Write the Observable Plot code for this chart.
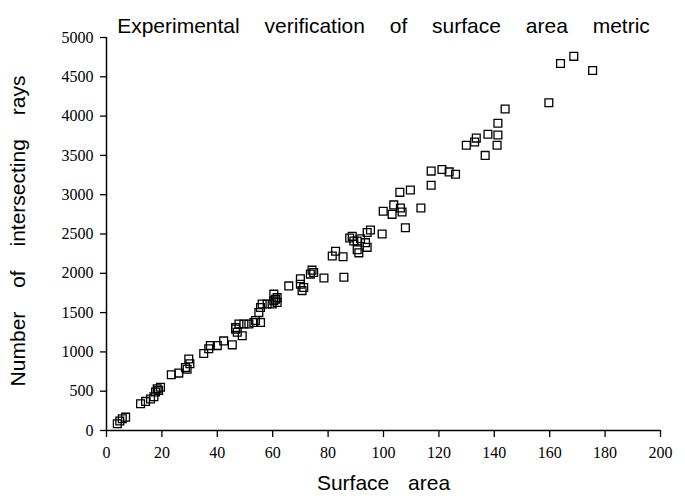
<!DOCTYPE html>
<html><head><meta charset="utf-8">
<script src="https://cdn.jsdelivr.net/npm/d3@7"></script>
<script src="https://cdn.jsdelivr.net/npm/@observablehq/plot@0.6"></script>
<style>body{margin:0;background:#fff}</style>
</head><body><div id="chart"></div>
<script>
const surfaceArea = [3.9,5.7,6.9,4.8,
 12.3,14.1,15.9,17.1,17.7,18.3,19.5,18.8,
 23.4,26.1,28.5,29.1,30.1,29.7,
 35.1,36.9,37.5,40,42.3,45.4,46.6,47.8,47.2,49,49.6,51.4,53.2,55,55.6,56.2,58,59.8,60.4,61,61.6,60.4,61.6,55.6,53.8,46.6,
 65.8,70,70,70.6,71.2,74.2,73.6,74.8,78.5,85.7,82.7,85.4,81.5,
 87.8,88.7,89.3,90.5,91.7,93.5,94.1,90.5,91.1,94.1,95.3,99.5,
 99.9,103.1,103.7,106.1,106.7,105.9,109.7,107.9,113.5,
 117.2,117.2,121.1,123.7,126,
 129.9,132.9,133.5,136.7,137.7,141,141.3,141.3,143.9,
 159.7,163.9,168.7,175.5];
const rayCount = [85,150,170,120,
 340,370,400,430,490,530,550,510,
 710,730,800,780,850,910,
 980,1040,1080,1080,1140,1090,1310,1355,1250,1205,1355,1355,1375,1500,1375,1610,1610,1610,1735,1670,1630,1650,1690,1565,1400,1290,
 1840,1930,1860,1780,1820,2040,1990,2010,1940,1950,2280,2210,2220,
 2450,2470,2410,2410,2440,2390,2330,2300,2260,2520,2550,2500,
 2790,2750,2870,2830,2780,3030,3060,2580,2830,
 3300,3120,3320,3290,3260,
 3630,3670,3720,3500,3770,3630,3760,3910,4090,
 4170,4670,4760,4580];
const xTicks = [0,20,40,60,80,100,120,140,160,180,200];
const yTicks = [0,500,1000,1500,2000,2500,3000,3500,4000,4500,5000];
const titleText = "Experimental verification of surface area metric";
const xLabel = "Surface area";
const yLabel = "Number of intersecting rays";

const data = surfaceArea.map((x, i) => ({x, y: rayCount[i]}));
const sans = "'Liberation Sans', Arial, sans-serif";

const chart = Plot.plot({
  width: 685, height: 501,
  marginTop: 37, marginBottom: 71, marginLeft: 106, marginRight: 25,
  x: {domain: [0, 200]},
  y: {domain: [0, 5000]},
  style: {background: "#fff", color: "#000", fontFamily: "'Liberation Serif', serif", fontSize: "16px"},
  marks: [
    Plot.axisX({ticks: xTicks, tickSize: 7, tickPadding: 9, tickFormat: d => String(d), label: null, strokeWidth: 1.3}),
    Plot.axisY({ticks: yTicks, tickSize: 6, tickPadding: 7, tickFormat: d => String(d), label: null, strokeWidth: 1.3}),
    Plot.ruleX([0], {stroke: "#000", strokeWidth: 1.5}),
    Plot.ruleY([0], {stroke: "#000", strokeWidth: 1.5}),
    Plot.dot(data, {x: "x", y: "y", symbol: "square", r: 4.4, stroke: "#000", strokeWidth: 1.3, fill: "none"}),
    Plot.text([titleText], {text: d => d, frameAnchor: "top", dy: -19, fontSize: 21, fontFamily: sans}),
    Plot.text([xLabel], {text: d => d, frameAnchor: "bottom", dy: 59, fontSize: 21, fontFamily: sans}),
    Plot.text([yLabel], {text: d => d, frameAnchor: "left", textAnchor: "middle", dx: -88, dy: -3, rotate: -90, fontSize: 21, fontFamily: sans})
  ]
});
document.getElementById("chart").appendChild(chart);
d3.select(chart).selectAll("text").each(function() {
  const t = this.textContent;
  if (t === titleText) d3.select(this).style("word-spacing", "19px");
  if (t === yLabel) d3.select(this).style("word-spacing", "18px");
  if (t === xLabel) d3.select(this).style("word-spacing", "13px");
});
</script>
</body></html>
